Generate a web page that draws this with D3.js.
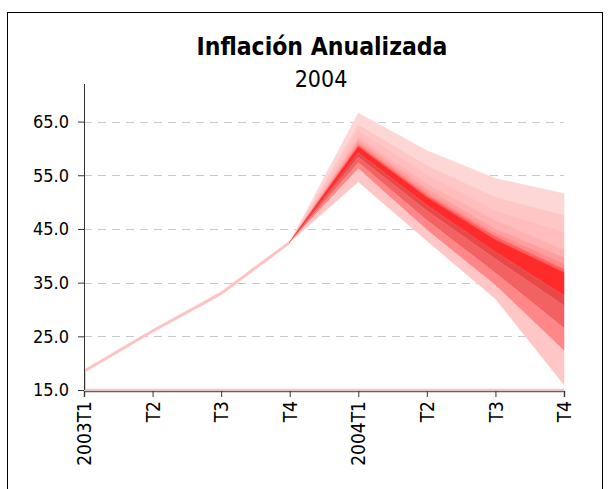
<!DOCTYPE html>
<html>
<head>
<meta charset="utf-8">
<script src="https://cdn.jsdelivr.net/npm/d3@7"></script>
<style>
  body { margin: 0; background: #fff; }
</style>
</head>
<body>
<svg id="chart" width="610" height="489"></svg>
<script>
var quarters = ["2003T1", "2003T2", "2003T3", "2003T4", "2004T1", "2004T2", "2004T3", "2004T4"]
var quarterLabels = ["2003T1", "T2", "T3", "T4", "2004T1", "T2", "T3", "T4"]
var yTicks = [15, 25, 35, 45, 55, 65]

// observed inflation
var observed = [18.5, 26.0, 33.0, 42.5]

// fan chart: band edges from top to bottom, one value per forecast quarter
var fanQuarters = ["2003T4", "2004T1", "2004T2", "2004T3", "2004T4"]
var edge0 = [42.5, 66.6, 59.6, 54.4, 51.6]
var edge1 = [42.5, 64.4, 56.8, 50.9, 47.5]
var edge2 = [42.5, 63.3, 55.2, 48.4, 44.4]
var edge3 = [42.5, 62.1, 53.4, 46.6, 41.1]
var edge4 = [42.5, 61.5, 52.5, 45.0, 39.7]
var edge5 = [42.5, 61.0, 51.8, 44.2, 38.5]
var edge6 = [42.5, 60.6, 51.3, 43.6, 37.5]
var edge7 = [42.5, 60.3, 50.9, 43.0, 36.9]
var edge8 = [42.5, 59.2, 49.4, 40.7, 32.6]
var edge9 = [42.5, 58.4, 48.4, 39.4, 30.7]
var edge10 = [42.5, 57.4, 46.6, 36.8, 26.5]
var edge11 = [42.5, 56.2, 44.8, 34.5, 22.3]
var edge12 = [42.5, 53.8, 42.8, 32.0, 16.0]
var bandColors = ["#FDD6D6", "#FFC6C6", "#FFBDBD", "#FFB0B0", "#FF9E9E", "#FF8A8A",
                  "#FF6060", "#FF2B2B", "#E84848", "#F26262", "#FF8787", "#FFC6C6"]

var edges = [edge0, edge1, edge2, edge3, edge4, edge5, edge6, edge7, edge8, edge9, edge10, edge11, edge12]

var dims = {
  width: 610,
  height: 489,
  left: 84,
  right: 564,
  top: 84,
  bottom: 390
}
var font = "'DejaVu Sans Condensed', 'DejaVu Sans', sans-serif"

var svg = d3.select("#chart")

// outer frame (bottom edge is outside the picture)
svg.append("rect")
  .attr("x", 7.5)
  .attr("y", 12.5)
  .attr("width", 595)
  .attr("height", 500)
  .attr("fill", "white")
  .attr("stroke", "black")
  .attr("stroke-width", 1)

var x = d3.scalePoint()
  .domain(quarters)
  .range([dims.left, dims.right])

var y = d3.scaleLinear()
  .domain([15, 72])
  .range([dims.bottom, dims.top])

// gridlines
svg.append("g")
  .selectAll("line")
  .data(yTicks.filter(d => d > 15))
  .enter()
  .append("line")
    .attr("x1", dims.left)
    .attr("x2", dims.right)
    .attr("y1", d => Math.round(y(d)) + 0.5)
    .attr("y2", d => Math.round(y(d)) + 0.5)
    .attr("stroke", "#c8c8c8")
    .attr("stroke-dasharray", "8,6")

// observed line, closed down to the axis like the original area
svg.append("path")
  .datum(observed)
  .attr("fill", "none")
  .attr("stroke", "#FFC2C2")
  .attr("stroke-width", 3)
  .attr("d", d3.line()
    .x((d, i) => x(quarters[i]))
    .y(d => y(d)))

svg.append("line")
  .attr("x1", x(quarters[0]) + 1)
  .attr("x2", x(quarters[0]) + 1)
  .attr("y1", y(observed[0]))
  .attr("y2", y(15))
  .attr("stroke", "#FFC2C2")
  .attr("stroke-width", 2)

svg.append("line")
  .attr("x1", dims.left)
  .attr("x2", dims.right)
  .attr("y1", y(15) - 0.5)
  .attr("y2", y(15) - 0.5)
  .attr("stroke", "#FFC2C2")
  .attr("stroke-width", 1.5)

// fan bands
var band = d3.area()
  .x(d => x(d.q))
  .y0(d => y(d.lo))
  .y1(d => y(d.hi))

for(var b = 0; b < bandColors.length; b++){
  var pts = fanQuarters.map((q, j) => ({q: q, hi: edges[b][j], lo: edges[b + 1][j]}))
  svg.append("path")
    .datum(pts)
    .attr("fill", bandColors[b])
    .attr("stroke", bandColors[b])
    .attr("stroke-width", 0.5)
    .attr("d", band)
}

// y axis
var yAxis = svg.append("g")
  .attr("transform", `translate(${dims.left},0)`)
  .call(d3.axisLeft(y).tickValues(yTicks).tickFormat(d3.format(".1f")).tickSizeOuter(0).tickSize(6).tickPadding(9))
yAxis.select(".domain").attr("stroke", "#333").attr("d", `M0.5,${dims.top}V${dims.bottom}`)
yAxis.selectAll(".tick line").attr("stroke", "#333")
yAxis.selectAll("text")
  .attr("fill", "black")
  .style("font-family", font)
  .style("font-size", "18px")

// x axis
var xAxis = svg.append("g")
  .attr("transform", `translate(0,${dims.bottom + 1})`)
  .call(d3.axisBottom(x).tickFormat((d, i) => quarterLabels[i]).tickSizeOuter(0).tickSize(6))
xAxis.select(".domain").attr("stroke", "#7a5656").attr("stroke-width", 1.5)
xAxis.selectAll(".tick line").attr("stroke", "#333")
xAxis.selectAll("text")
  .attr("fill", "black")
  .attr("transform", "rotate(-90)")
  .attr("x", -10)
  .attr("y", 0)
  .attr("dy", "0.35em")
  .style("text-anchor", "end")
  .style("font-family", font)
  .style("font-size", "19px")

// titles
svg.append("text")
  .attr("x", 322)
  .attr("y", 55)
  .attr("text-anchor", "middle")
  .style("font-family", font)
  .style("font-weight", "bold")
  .style("font-size", "24.5px")
  .text("Inflación Anualizada")

svg.append("text")
  .attr("x", 321)
  .attr("y", 87)
  .attr("text-anchor", "middle")
  .style("font-family", font)
  .style("font-size", "23px")
  .text("2004")
</script>
</body>
</html>
